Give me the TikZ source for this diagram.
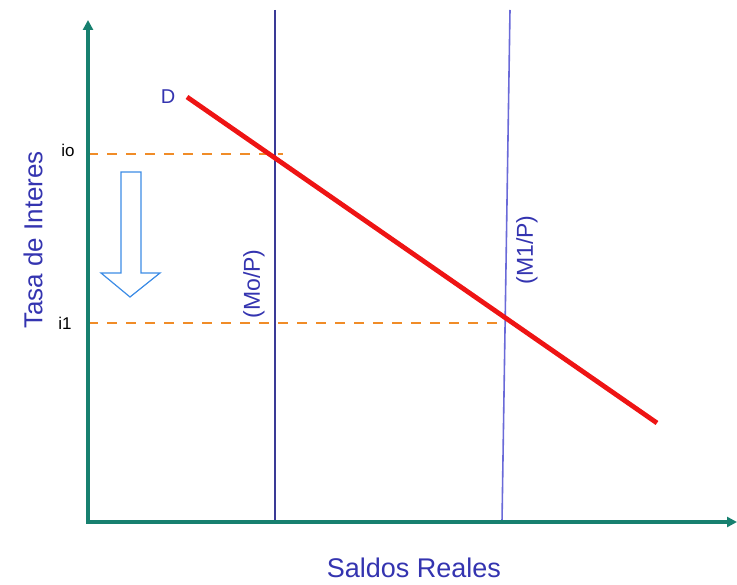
\documentclass[tikz,border=0pt]{standalone}
\usepackage{fontspec}
\setmainfont{Liberation Sans}
\usetikzlibrary{arrows.meta,positioning,calc}
\definecolor{AxisTeal}{HTML}{17806F}
\definecolor{MoNavy}{HTML}{3A3A96}
\definecolor{MoneBlue}{HTML}{6A6AD8}
\definecolor{DRed}{HTML}{EE1414}
\definecolor{RateOrange}{HTML}{F08C28}
\definecolor{LblBlue}{HTML}{3434B0}
\definecolor{ArrBlue}{HTML}{3C8CE6}

\begin{document}
\begin{tikzpicture}[
  x=1pt, y=-1pt,
  every node/.style={inner sep=0pt},
  axis/.style={line width=4pt, draw=AxisTeal,
               {Triangle[length=10pt,width=10pt]}-{Triangle[length=10pt,width=10pt]}},
  supply/.style={line width=1.6pt},
  demand/.style={line width=4.8pt, draw=DRed},
  rate/.style={line width=2.5pt, draw=RateOrange, dash pattern=on 10pt off 9pt},
  axlbl/.style={text=LblBlue, font=\fontsize{26}{28}\selectfont},
  mlbl/.style={text=LblBlue, font=\fontsize{23}{25}\selectfont, rotate=90},
  ilbl/.style={font=\fontsize{17}{19}\selectfont},
]
\useasboundingbox (0,0) rectangle (737,585);

%% ─ Key points ───────────────────────────────────────────────────────────────
\coordinate (ytop) at (88,20);
\coordinate (xend) at (737,522);
\coordinate (dtop) at (187,97);
\coordinate (dbot) at (657,423);
\coordinate (motop) at (275,10);
\coordinate (mobot) at (275,522);
\coordinate (m1top) at (510,10);
\coordinate (m1bot) at (502,522);
\coordinate (ioL) at (88,154);
\coordinate (ioR) at (283,154);
\coordinate (i1L) at (88,323);
\coordinate (i1R) at (506,323);

%% ─ Interest rate levels ─────────────────────────────────────────────────────
\draw[rate] (ioL) -- (ioR);
\draw[rate] (i1L) -- (i1R);

%% ─ Money supply lines ───────────────────────────────────────────────────────
\draw[supply, MoNavy]   (motop) -- (mobot);
\draw[supply, MoneBlue] (m1top) -- (m1bot);

%% ─ Money demand ─────────────────────────────────────────────────────────────
\draw[demand] (dtop) -- (dbot);

%% ─ Axes ─────────────────────────────────────────────────────────────────────
\draw[axis] (ytop) |- (xend);

%% ─ Fall of the rate (hollow arrow) ──────────────────────────────────────────
\draw[ArrBlue, line width=1.2pt, fill=white, line join=miter]
  (121,172) -- (141,172) -- (141,273) -- (160,273) -- (130,297)
  -- (101,273) -- (121,273) -- cycle;

%% ─ Labels ───────────────────────────────────────────────────────────────────
\node[text=LblBlue, font=\fontsize{20}{22}\selectfont] (dlbl) at (168,97) {D};
\node[ilbl] (io) at (68,150) {io};
\node[ilbl] (i1) at (65,323) {i1};
\node[mlbl] (molbl) at (254,284) {(Mo/P)};
\node[mlbl] (m1lbl) at (527,250) {(M1/P)};
\node[axlbl, rotate=90] (ylbl) at (33,240) {Tasa de Interes};
\node[axlbl, font=\fontsize{27}{29}\selectfont] (xlbl) at (414,568) {Saldos Reales};

\end{tikzpicture}
\end{document}
